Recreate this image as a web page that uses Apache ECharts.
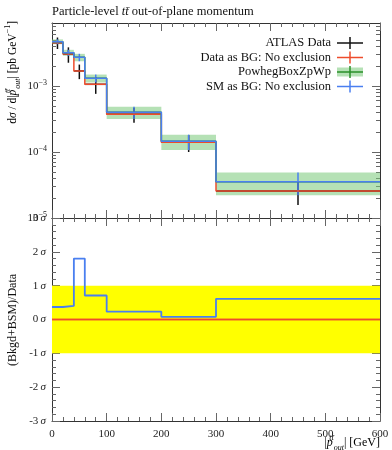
<!DOCTYPE html>
<html><head><meta charset="utf-8">
<script src="https://cdn.jsdelivr.net/npm/echarts@6/dist/echarts.min.js"></script>
<style>html,body{margin:0;padding:0;background:#fff}#c{width:392px;height:450px}</style>
</head><body><div id="c"></div>
<script>
// ---- data ----
const binEdges = [0, 20, 40, 60, 100, 200, 300, 600];
const atlasVals = [4.53e-3, 3.05e-3, 1.69e-3, 1.06e-3, 3.73e-4, 1.40e-4, 2.56e-5];
const atlasErrs = [0.90e-3, 0.80e-3, 0.42e-3, 0.30e-3, 0.95e-4, 0.40e-4, 0.98e-5];
const dataAsBgVals = [4.53e-3, 3.05e-3, 1.69e-3, 1.06e-3, 3.73e-4, 1.40e-4, 2.56e-5];
const powhegVals = [4.69e-3, 3.20e-3, 2.72e-3, 1.31e-3, 4.00e-4, 1.45e-4, 3.55e-5];
const powhegErrs = [0.39e-3, 0.33e-3, 0.35e-3, 0.18e-3, 0.85e-4, 0.38e-4, 1.33e-5];
const smAsBgVals = [4.69e-3, 3.20e-3, 2.72e-3, 1.31e-3, 4.00e-4, 1.45e-4, 3.55e-5];
const ratioDataAsBg = [0, 0, 0, 0, 0, 0, 0];
const ratioSmAsBg = [0.37, 0.40, 1.80, 0.71, 0.23, 0.08, 0.61];
const xTickLabels = [0, 100, 200, 300, 400, 500, 600];
const logMajorTicks = [1e-5, 1e-4, 1e-3];
const logMinorTicks = [2e-5,3e-5,4e-5,5e-5,6e-5,7e-5,8e-5,9e-5,2e-4,3e-4,4e-4,5e-4,6e-4,7e-4,8e-4,9e-4,2e-3,3e-3,4e-3,5e-3,6e-3,7e-3,8e-3];
const sigmaTicks = [-3, -2, -1, 0, 1, 2, 3];
const legendNames = ['ATLAS Data', 'Data as BG: No exclusion', 'PowhegBoxZpWp', 'SM as BG: No exclusion'];
const titleText = 'Particle-level {i|tt\u0304} out-of-plane momentum';

// ---- style ----
const FONT = "'Liberation Serif','DejaVu Serif',serif";
const RED = '#ee4c2c', BLUE = '#4a7ff0', GREEN_BAND = 'rgba(120,200,120,0.55)', GREEN = '#2a8f2a';
const lineC = '#333', tickC = '#666';

function stepPts(vals) {
  const pts = vals.map((v, i) => [binEdges[i], v]);
  pts.push([binEdges[binEdges.length - 1], vals[vals.length - 1]]);
  return pts;
}
function binRows(vals, errs) {
  return vals.map((v, i) => [binEdges[i], binEdges[i + 1], v, v - errs[i], v + errs[i]]);
}

const chart = echarts.init(document.getElementById('c'), null, {renderer: 'canvas'});

function xAx(grid, pos, labels) {
  return {
    gridIndex: grid, type: 'value', min: 0, max: 600, interval: 100, position: pos,
    axisLine: {show: true, onZero: false, lineStyle: {color: lineC, width: 1}},
    axisTick: {show: true, inside: true, length: 8, lineStyle: {color: tickC}},
    minorTick: {show: true, splitNumber: 5, length: 4, lineStyle: {color: tickC}},
    splitLine: {show: false},
    axisLabel: {show: labels, color: '#222', fontFamily: FONT, fontSize: 11, margin: 8,
      customValues: xTickLabels}
  };
}
const supRich = {
  b: {fontFamily: FONT, fontSize: 11, color: '#222', lineHeight: 14},
  s: {fontFamily: FONT, fontSize: 8, color: '#222', lineHeight: 8, verticalAlign: 'top'}
};
function logAx(pos, major) {
  return {
    gridIndex: 0, type: 'log', logBase: 10, min: 0.9999e-5, max: 9e-3, position: pos,
    axisLine: {show: major, onZero: false, lineStyle: {color: lineC, width: 1}},
    axisTick: {show: true, inside: true, length: major ? 8 : 4, lineStyle: {color: tickC},
      customValues: major ? logMajorTicks : logMinorTicks},
    minorTick: {show: false}, splitLine: {show: false},
    axisLabel: {show: major && pos === 'left', margin: 5, customValues: logMajorTicks,
      formatter: v => '{b|10}{s|\u2212' + Math.round(-Math.log10(v)) + '}', rich: supRich}
  };
}
function sigAx(pos) {
  return {
    gridIndex: 1, type: 'value', min: -3, max: 3, interval: 1, position: pos,
    axisLine: {show: true, onZero: false, lineStyle: {color: lineC, width: 1}},
    axisTick: {show: true, inside: true, length: 8, lineStyle: {color: tickC}},
    minorTick: {show: true, splitNumber: 5, length: 4, lineStyle: {color: tickC}},
    splitLine: {show: false},
    axisLabel: {show: pos === 'left', margin: 6, customValues: sigmaTicks,
      formatter: v => '{n|' + (v < 0 ? '-' : '') + Math.abs(v) + '}{s|\u2009\u03c3}',
      rich: {n: {fontFamily: FONT, fontSize: 11, color: '#222'},
             s: {fontFamily: FONT, fontSize: 11, color: '#222', fontStyle: 'italic'}}}
  };
}

const bandSeries = {
  type: 'custom', xAxisIndex: 0, yAxisIndex: 0, silent: true,
  data: binRows(powhegVals, powhegErrs), encode: {x: [0, 1], y: [2, 3, 4]},
  renderItem: (p, api) => {
    const a = api.coord([api.value(0), api.value(4)]);
    const b = api.coord([api.value(1), api.value(3)]);
    return {type: 'rect', shape: {x: a[0], y: a[1], width: b[0] - a[0], height: b[1] - a[1]},
      style: {fill: GREEN_BAND}};
  }
};
function crossSeries(vals, errs, color, withH) {
  return {
    type: 'custom', xAxisIndex: 0, yAxisIndex: 0, silent: true,
    data: binRows(vals, errs), encode: {x: [0, 1], y: [2, 3, 4]},
    renderItem: (p, api) => {
      const xc = (api.value(0) + api.value(1)) / 2;
      const top = api.coord([xc, api.value(4)]);
      const bot = api.coord([xc, api.value(3)]);
      const children = [{type: 'line', shape: {x1: top[0], y1: top[1], x2: bot[0], y2: bot[1]},
        style: {stroke: color, lineWidth: 1.5}}];
      if (withH) {
        const l = api.coord([api.value(0), api.value(2)]);
        const r = api.coord([api.value(1), api.value(2)]);
        children.push({type: 'line', shape: {x1: l[0], y1: l[1], x2: r[0], y2: r[1]},
          style: {stroke: color, lineWidth: 1.5}});
      }
      return {type: 'group', children};
    }
  };
}
function stepSeries(vals, color, xi, yi, w) {
  return {type: 'line', xAxisIndex: xi, yAxisIndex: yi, step: 'end', showSymbol: false,
    silent: true, data: stepPts(vals), lineStyle: {color, width: w || 1.5}, animation: false};
}

function richTxt(fs) {
  const sfs = Math.round(fs * 0.7);
  return {
    n: {fontFamily: FONT, fontSize: fs, color: '#111', lineHeight: fs + 6},
    i: {fontFamily: FONT, fontSize: fs, color: '#111', lineHeight: fs + 6, fontStyle: 'italic'},
    sub: {fontFamily: FONT, fontSize: sfs, color: '#111', lineHeight: sfs + 1, verticalAlign: 'bottom', fontStyle: 'italic'},
    sup: {fontFamily: FONT, fontSize: sfs, color: '#111', lineHeight: sfs + 1, verticalAlign: 'top', fontStyle: 'italic', width: 1},
    supn: {fontFamily: FONT, fontSize: sfs, color: '#111', lineHeight: sfs + 1, verticalAlign: 'top'}
  };
}

const legendY = [43, 57.5, 72, 86.5];
const legendColors = ['#111', RED, GREEN, BLUE];
const legendEls = [];
legendNames.forEach((name, k) => {
  const y = legendY[k];
  legendEls.push({type: 'text', x: 331, y: y, silent: true,
    style: {text: name, fontFamily: FONT, fontSize: 12.5, fill: '#111',
      align: 'right', textAlign: 'right', verticalAlign: 'middle', textVerticalAlign: 'middle'}});
  if (k === 2) legendEls.push({type: 'rect', silent: true, shape: {x: 337, y: y - 4.5, width: 26, height: 9}, style: {fill: GREEN_BAND}});
  legendEls.push({type: 'line', silent: true, shape: {x1: 337, y1: y, x2: 363, y2: y}, style: {stroke: legendColors[k], lineWidth: 1.5}});
  legendEls.push({type: 'line', silent: true, shape: {x1: 350, y1: y - 6, x2: 350, y2: y + 6}, style: {stroke: legendColors[k], lineWidth: 1.5}});
});

chart.setOption({
  animation: false,
  backgroundColor: '#fff',
  grid: [{left: 52, right: 12, top: 23, height: 195}, {left: 52, right: 12, top: 218, height: 203}],
  xAxis: [xAx(0, 'bottom', false), xAx(0, 'top', false), xAx(1, 'bottom', true), xAx(1, 'top', false)],
  yAxis: [logAx('left', true), logAx('left', false), logAx('right', true), logAx('right', false), sigAx('left'), sigAx('right')],
  series: [
    bandSeries,
    crossSeries(atlasVals, atlasErrs, '#111', true),
    stepSeries(dataAsBgVals, RED, 0, 0),
    stepSeries(powhegVals, GREEN, 0, 0),
    stepSeries(smAsBgVals, BLUE, 0, 0),
    crossSeries(smAsBgVals, powhegErrs, BLUE, false),
    {type: 'line', xAxisIndex: 2, yAxisIndex: 4, showSymbol: false, silent: true,
      data: stepPts(ratioDataAsBg), step: 'end', lineStyle: {color: RED, width: 1.5},
      markArea: {silent: true, itemStyle: {color: '#ffff00', opacity: 1}, data: [[{yAxis: -1}, {yAxis: 1}]]}},
    stepSeries(ratioDataAsBg, RED, 2, 4),
    stepSeries(ratioSmAsBg, BLUE, 2, 4, 1.8)
  ],
  graphic: [
    {type: 'text', x: 52, y: 12, silent: true,
      style: {text: titleText, rich: {i: {fontFamily: FONT, fontSize: 12.5, fontStyle: 'italic', fill: '#111', color: '#111'}},
        fontFamily: FONT, fontSize: 12.5, fill: '#111', verticalAlign: 'middle', textVerticalAlign: 'middle'}},
    {type: 'text', x: 13, y: 21, rotation: Math.PI / 2, silent: true,
      style: {text: '{n|d}{i|\u03c3}{n| / d|}{i|p}{sup|tt\u0304}{sub|out}{n|| [pb GeV}{supn|\u22121}{n|]}', rich: richTxt(11.5),
        align: 'right', textAlign: 'right', verticalAlign: 'middle', textVerticalAlign: 'middle'}},
    {type: 'text', x: 13, y: 320, rotation: Math.PI / 2, silent: true,
      style: {text: '(Bkgd+BSM)/Data', fontFamily: FONT, fontSize: 12, fill: '#111',
        align: 'center', textAlign: 'center', verticalAlign: 'middle', textVerticalAlign: 'middle'}},
    {type: 'text', x: 380, y: 443, silent: true,
      style: {text: '{n||}{i|p}{sup|tt\u0304}{sub|out}{n|| [GeV]}', rich: richTxt(12),
        align: 'right', textAlign: 'right', verticalAlign: 'middle', textVerticalAlign: 'middle'}}
  ].concat(legendEls)
});
</script></body></html>
